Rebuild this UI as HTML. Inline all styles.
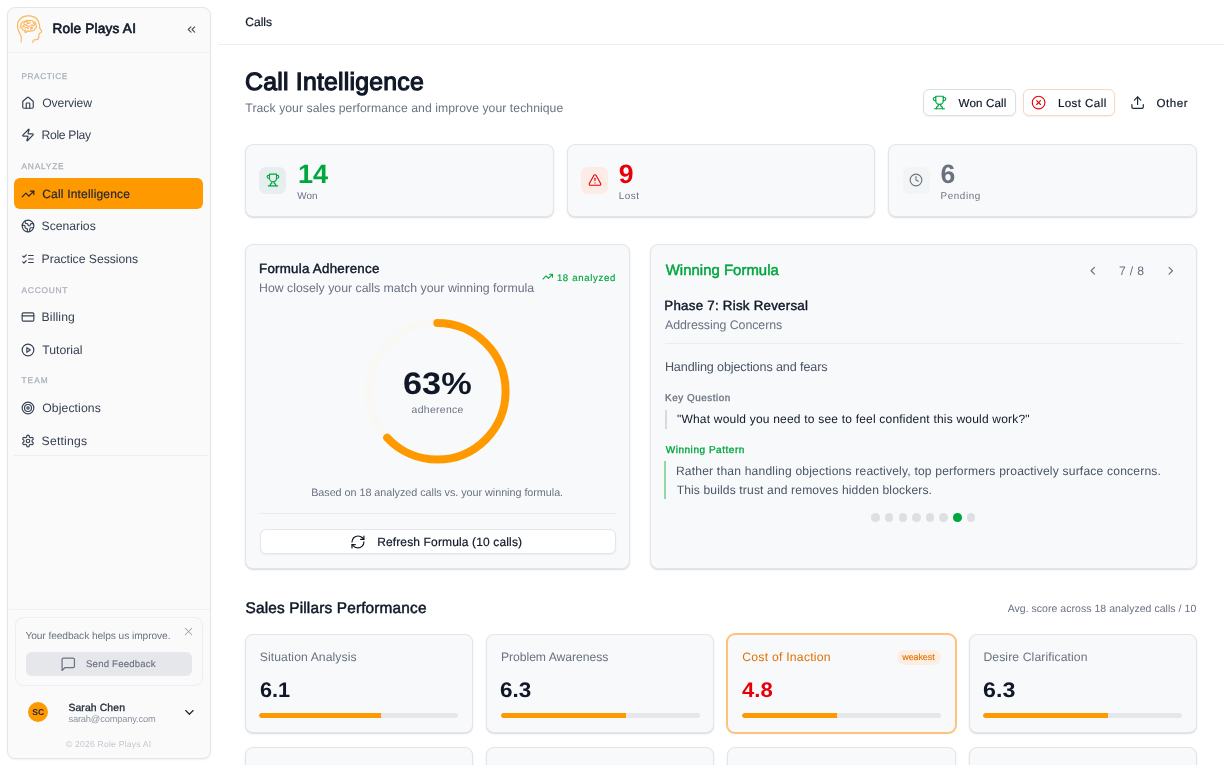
<!DOCTYPE html>
<html><head><meta charset="utf-8"><style>
*{box-sizing:border-box;margin:0;padding:0}
html,body{width:1224px;height:765px;overflow:hidden;background:#fff;font-family:"Liberation Sans",sans-serif;position:relative;text-rendering:geometricPrecision}
.t{position:absolute;white-space:nowrap;filter:opacity(1)}
.ic{position:absolute;overflow:visible}
.sb{position:absolute;left:7px;top:7px;width:204px;height:752px;background:#fafafa;border:1px solid #e3e6ea;border-radius:8px;box-shadow:0 1px 2px rgba(16,24,40,.06)}
.hl{position:absolute;height:1px;background:#eaecef}
.act{position:absolute;left:14.4px;top:178.3px;width:188.8px;height:30.5px;background:#fe9a00;border-radius:6px}
.fb{position:absolute;left:14.8px;top:617.3px;width:188px;height:69.2px;border:1px solid #eceef1;border-radius:8px;background:#fafafa}
.fbb{position:absolute;left:25.7px;top:652px;width:166.2px;height:23.6px;background:#e5e7eb;border-radius:6px}
.av{position:absolute;left:28px;top:702px;width:20.4px;height:20.4px;border-radius:50%;background:#fe9a00;color:#1f2937;font-weight:700;font-size:8.6px;line-height:20.4px;text-align:center;filter:opacity(1)}
.card{position:absolute;background:#f8f9fb;border:1px solid #e2e6ea;border-radius:8px;box-shadow:0 1px 2px rgba(16,24,40,.10),0 1px 1px rgba(16,24,40,.05)}
.btn{position:absolute;background:#fff;border:1px solid #e3e6ea;border-radius:6px;box-shadow:0 1px 2px rgba(16,24,40,.06)}
.ibox{position:absolute;width:27px;height:27px;border-radius:6.5px}
.dot{position:absolute;width:8.6px;height:8.6px;border-radius:50%}
.bar{position:absolute;height:5.1px;background:#e5e7eb;border-radius:3px;overflow:hidden}
.bar div{height:100%;background:#fe9a00;border-radius:3px 0 0 3px}
.badge{position:absolute;background:#fdeee3;border-radius:8px}
</style></head><body>
<div class="sb"></div>
<div class="hl" style="left:8.5px;top:51.8px;width:201px;background:#eef0f2"></div>
<div class="hl" style="left:14px;top:455.4px;width:195px;background:#eceef1"></div>
<div class="hl" style="left:8.5px;top:609px;width:201px;background:#eef0f2"></div>
<svg class="ic" style="left:14px;top:13px;width:32px;height:32px" viewBox="0 0 32 32" fill="none" stroke="#fdb65a" stroke-width="1.2" stroke-linecap="round" stroke-linejoin="round">
<path d="M7.1 28.9C7.6 26 7.5 24.5 7 23C6.5 21.5 5 19 4.2 16.7C3.3 14.5 3.1 10 4.6 7.9C6 5.5 9.5 3.2 13.4 2.9C15 2.8 16.3 2.8 17.6 3.1C21.5 3.8 24.5 7 25.4 11.5C25.7 13 25.6 14.2 25.7 15.1L27.6 18C27.9 18.6 27.4 19.3 26.8 19.7L25.3 20.6C24.9 21.8 24.9 23.2 24.7 24.3C24.5 25.8 23.8 26.5 22.5 26.7L20.2 26.8C19.3 27 18.9 27.8 18.8 29.3"/>
<path d="M8 15.5C6.2 15.2 5.8 12.8 7.2 11.8C6.8 9.8 8.8 8.3 10.6 8.9C11.4 7.3 13.8 7 15 8.1C16.2 7 18.6 7.3 19.3 8.9C21.2 8.8 22.6 10.6 21.9 12.3C23 13.5 22.4 15.6 20.8 15.9C20.6 17.4 18.8 18.3 17.4 17.6C16.4 18.5 14.5 18.5 13.6 17.6L12 19.5C11.3 19.8 10.8 19.2 11 18.6L11.5 17.2C10.3 17.6 8.6 16.9 8 15.5Z"/>
<path d="M9.5 12.5C10.3 11.2 12 11.3 12.5 12.5M13 10C14 10.8 15.5 10.6 16 9.5M17 12.5C18 11.5 19.5 12 19.8 13.2M11 15C12 14.2 13.8 14.4 14.3 15.5M15.5 13.5C16.3 14.5 17.8 14.8 18.5 14.2M10 10.5C9.8 9.9 10.2 9.4 10.8 9.3M19.5 10.3C20.2 10.5 20.6 11 20.5 11.6M8.3 13.4C8.9 13.9 9.7 14 10.3 13.6M12.2 8.4C12.6 9 13.2 9.2 13.8 9M16.6 16.4C16.8 15.7 17.5 15.3 18.2 15.4M13.6 12.4C14.2 12.9 14.2 13.6 13.8 14.1"/>
</svg>
<svg class="ic" style="left:184.9px;top:23.3px;width:13px;height:13px;" viewBox="0 0 24 24" fill="none" stroke="#4a5565" stroke-width="2.1" stroke-linecap="round" stroke-linejoin="round"><path d="m11 17-5-5 5-5"/><path d="m18 17-5-5 5-5"/></svg>
<div class="act"></div>
<svg class="ic" style="left:21.1px;top:96.0px;width:14px;height:14px;" viewBox="0 0 24 24" fill="none" stroke="#364153" stroke-width="2" stroke-linecap="round" stroke-linejoin="round"><path d="M15 21v-8a1 1 0 0 0-1-1h-4a1 1 0 0 0-1 1v8"/><path d="M3 10a2 2 0 0 1 .709-1.528l7-5.999a2 2 0 0 1 2.582 0l7 5.999A2 2 0 0 1 21 10v9a2 2 0 0 1-2 2H5a2 2 0 0 1-2-2z"/></svg>
<svg class="ic" style="left:21.1px;top:127.6px;width:14px;height:14px;" viewBox="0 0 24 24" fill="none" stroke="#364153" stroke-width="2" stroke-linecap="round" stroke-linejoin="round"><path d="M4 14a1 1 0 0 1-.78-1.63l9.9-10.2a.5.5 0 0 1 .86.46l-1.92 6.02A1 1 0 0 0 13 10h7a1 1 0 0 1 .78 1.63l-9.9 10.2a.5.5 0 0 1-.86-.46l1.92-6.02A1 1 0 0 0 11 14z"/></svg>
<svg class="ic" style="left:21.1px;top:186.7px;width:14px;height:14px;" viewBox="0 0 24 24" fill="none" stroke="#1f2430" stroke-width="2" stroke-linecap="round" stroke-linejoin="round"><polyline points="22 7 13.5 15.5 8.5 10.5 2 17"/><polyline points="16 7 22 7 22 13"/></svg>
<svg class="ic" style="left:21.1px;top:218.8px;width:14px;height:14px;" viewBox="0 0 24 24" fill="none" stroke="#364153" stroke-width="2" stroke-linecap="round" stroke-linejoin="round"><path d="M21.54 15H17a2 2 0 0 0-2 2v4.54"/><path d="M7 3.34V5a3 3 0 0 0 3 3a2 2 0 0 1 2 2c0 1.1.9 2 2 2a2 2 0 0 0 2-2c0-1.1.9-2 2-2h3.17"/><path d="M11 21.95V18a2 2 0 0 0-2-2a2 2 0 0 1-2-2v-1a2 2 0 0 0-2-2H2.05"/><circle cx="12" cy="12" r="10"/></svg>
<svg class="ic" style="left:21.1px;top:251.89999999999998px;width:14px;height:14px;" viewBox="0 0 24 24" fill="none" stroke="#364153" stroke-width="2" stroke-linecap="round" stroke-linejoin="round"><path d="m3 17 2 2 4-4"/><path d="m3 7 2 2 4-4"/><path d="M13 6h8"/><path d="M13 12h8"/><path d="M13 18h8"/></svg>
<svg class="ic" style="left:21.1px;top:310.1px;width:14px;height:14px;" viewBox="0 0 24 24" fill="none" stroke="#364153" stroke-width="2" stroke-linecap="round" stroke-linejoin="round"><rect width="20" height="14" x="2" y="5" rx="2"/><line x1="2" x2="22" y1="10" y2="10"/></svg>
<svg class="ic" style="left:21.1px;top:342.7px;width:14px;height:14px;" viewBox="0 0 24 24" fill="none" stroke="#364153" stroke-width="2" stroke-linecap="round" stroke-linejoin="round"><circle cx="12" cy="12" r="10"/><polygon points="10 8 16 12 10 16 10 8"/></svg>
<svg class="ic" style="left:21.1px;top:401.0px;width:14px;height:14px;" viewBox="0 0 24 24" fill="none" stroke="#364153" stroke-width="2" stroke-linecap="round" stroke-linejoin="round"><circle cx="12" cy="12" r="10"/><circle cx="12" cy="12" r="6"/><circle cx="12" cy="12" r="2"/></svg>
<svg class="ic" style="left:21.1px;top:433.9px;width:14px;height:14px;" viewBox="0 0 24 24" fill="none" stroke="#364153" stroke-width="2" stroke-linecap="round" stroke-linejoin="round"><path d="M12.22 2h-.44a2 2 0 0 0-2 2v.18a2 2 0 0 1-1 1.73l-.43.25a2 2 0 0 1-2 0l-.15-.08a2 2 0 0 0-2.73.73l-.22.38a2 2 0 0 0 .73 2.73l.15.1a2 2 0 0 1 1 1.72v.51a2 2 0 0 1-1 1.74l-.15.09a2 2 0 0 0-.73 2.73l.22.38a2 2 0 0 0 2.73.73l.15-.08a2 2 0 0 1 2 0l.43.25a2 2 0 0 1 1 1.73V20a2 2 0 0 0 2 2h.44a2 2 0 0 0 2-2v-.18a2 2 0 0 1 1-1.73l.43-.25a2 2 0 0 1 2 0l.15.08a2 2 0 0 0 2.73-.73l.22-.39a2 2 0 0 0-.73-2.73l-.15-.08a2 2 0 0 1-1-1.74v-.5a2 2 0 0 1 1-1.74l.15-.09a2 2 0 0 0 .73-2.730l-.22-.38a2 2 0 0 0-2.73-.73l-.15.08a2 2 0 0 1-2 0l-.43-.25a2 2 0 0 1-1-1.73V4a2 2 0 0 0-2-2z"/><circle cx="12" cy="12" r="3"/></svg>
<div class="fb"></div>
<svg class="ic" style="left:182.15px;top:625.25px;width:13px;height:13px;" viewBox="0 0 24 24" fill="none" stroke="#9ca3af" stroke-width="1.9" stroke-linecap="round" stroke-linejoin="round"><path d="M18 6 6 18"/><path d="m6 6 12 12"/></svg>
<div class="fbb"></div>
<svg class="ic" style="left:60.45px;top:655.6px;width:16.5px;height:16.5px;" viewBox="0 0 24 24" fill="none" stroke="#6b7280" stroke-width="1.8" stroke-linecap="round" stroke-linejoin="round"><path d="M21 15a2 2 0 0 1-2 2H7l-4 4V5a2 2 0 0 1 2-2h14a2 2 0 0 1 2 2z"/></svg>
<div class="av">SC</div>
<svg class="ic" style="left:182.2px;top:704.9px;width:14.8px;height:14.8px;" viewBox="0 0 24 24" fill="none" stroke="#1f2937" stroke-width="2" stroke-linecap="round" stroke-linejoin="round"><path d="m6 9 6 6 6-6"/></svg>
<div class="hl" style="left:218px;top:44px;width:1006px;background:#eceef1"></div>
<div class="btn" style="left:923.3px;top:89.4px;width:92.5px;height:27px;border-color:#d9e0e4"></div>
<svg class="ic" style="left:931.6px;top:94.95px;width:15px;height:15px;" viewBox="0 0 24 24" fill="none" stroke="#00a63e" stroke-width="1.9" stroke-linecap="round" stroke-linejoin="round"><path d="M6 9H4.5a2.5 2.5 0 0 1 0-5H6"/><path d="M18 9h1.5a2.5 2.5 0 0 0 0-5H18"/><path d="M4 22h16"/><path d="M10 14.66V17c0 .55-.47.98-.97 1.21C7.850 18.75 7 20.24 7 22"/><path d="M14 14.66V17c0 .55.47.98.97 1.21C16.15 18.75 17 20.24 17 22"/><path d="M18 2H6v7a6 6 0 0 0 12 0V2Z"/></svg>
<div class="btn" style="left:1022.8px;top:89.4px;width:92px;height:27px;border-color:#fbd7bd"></div>
<svg class="ic" style="left:1030.95px;top:94.85px;width:15.2px;height:15.2px;" viewBox="0 0 24 24" fill="none" stroke="#e7000b" stroke-width="1.8" stroke-linecap="round" stroke-linejoin="round"><circle cx="12" cy="12" r="10"/><path d="m15 9-6 6"/><path d="m9 9 6 6"/></svg>
<svg class="ic" style="left:1129.75px;top:95.2px;width:15.2px;height:15.2px;" viewBox="0 0 24 24" fill="none" stroke="#1f2937" stroke-width="1.9" stroke-linecap="round" stroke-linejoin="round"><path d="M21 15v4a2 2 0 0 1-2 2H5a2 2 0 0 1-2-2v-4"/><polyline points="17 8 12 3 7 8"/><line x1="12" x2="12" y1="3" y2="15"/></svg>
<div class="card" style="left:245px;top:143.6px;width:309px;height:73.6px"></div>
<div class="ibox" style="left:259.4px;top:166.8px;background:#e7eef0"></div>
<svg class="ic" style="left:265.9px;top:173.3px;width:14px;height:14px;" viewBox="0 0 24 24" fill="none" stroke="#00a63e" stroke-width="1.9" stroke-linecap="round" stroke-linejoin="round"><path d="M6 9H4.5a2.5 2.5 0 0 1 0-5H6"/><path d="M18 9h1.5a2.5 2.5 0 0 0 0-5H18"/><path d="M4 22h16"/><path d="M10 14.66V17c0 .55-.47.98-.97 1.21C7.850 18.75 7 20.24 7 22"/><path d="M14 14.66V17c0 .55.47.98.97 1.21C16.15 18.75 17 20.24 17 22"/><path d="M18 2H6v7a6 6 0 0 0 12 0V2Z"/></svg>
<div class="card" style="left:567px;top:143.6px;width:308px;height:73.6px"></div>
<div class="ibox" style="left:581.1px;top:166.8px;background:#fdece5"></div>
<svg class="ic" style="left:587.6px;top:173.3px;width:14px;height:14px;" viewBox="0 0 24 24" fill="none" stroke="#e7000b" stroke-width="1.9" stroke-linecap="round" stroke-linejoin="round"><path d="m21.73 18-8-14a2 2 0 0 0-3.48 0l-8 14A2 2 0 0 0 4 21h16a2 2 0 0 0 1.73-3"/><path d="M12 9v4"/><path d="M12 17h.01"/></svg>
<div class="card" style="left:888px;top:143.6px;width:309px;height:73.6px"></div>
<div class="ibox" style="left:902.8000000000001px;top:166.8px;background:#f2f4f6"></div>
<svg class="ic" style="left:909.3000000000001px;top:173.3px;width:14px;height:14px;" viewBox="0 0 24 24" fill="none" stroke="#6a7282" stroke-width="1.9" stroke-linecap="round" stroke-linejoin="round"><circle cx="12" cy="12" r="10"/><polyline points="12 6 12 12 16 14"/></svg>
<div class="card" style="left:245.2px;top:243.9px;width:384.8px;height:325.2px"></div>
<svg class="ic" style="left:542.35px;top:271.3px;width:11.4px;height:11.4px;" viewBox="0 0 24 24" fill="none" stroke="#00a63e" stroke-width="2.2" stroke-linecap="round" stroke-linejoin="round"><polyline points="22 7 13.5 15.5 8.5 10.5 2 17"/><polyline points="16 7 22 7 22 13"/></svg>
<svg class="ic" style="left:365px;top:318.8px;width:144.6px;height:144.6px" viewBox="0 0 144.6 144.6">
<circle cx="72.3" cy="72.3" r="68.3" fill="none" stroke="#f9f8f5" stroke-width="8"/>
<circle cx="72.3" cy="72.3" r="68.3" fill="none" stroke="#fe9a00" stroke-width="8" stroke-linecap="round"
 stroke-dasharray="270.35 1000" transform="rotate(-90 72.3 72.3)"/>
</svg>
<div class="hl" style="left:259px;top:513px;width:357px"></div>
<div class="btn" style="left:259.7px;top:528.6px;width:356px;height:25.8px;border-color:#e3e6ea"></div>
<svg class="ic" style="left:350.0px;top:533.55px;width:15.9px;height:15.9px;" viewBox="0 0 24 24" fill="none" stroke="#101828" stroke-width="1.8" stroke-linecap="round" stroke-linejoin="round"><path d="M3 12a9 9 0 0 1 9-9 9.75 9.75 0 0 1 6.74 2.74L21 8"/><path d="M21 3v5h-5"/><path d="M21 12a9 9 0 0 1-9 9 9.75 9.75 0 0 1-6.74-2.74L3 16"/><path d="M8 16H3v5"/></svg>
<div class="card" style="left:650px;top:244.2px;width:547px;height:325.2px"></div>
<svg class="ic" style="left:1085.6px;top:263.5px;width:13.5px;height:13.5px;" viewBox="0 0 24 24" fill="none" stroke="#6a7282" stroke-width="2.1" stroke-linecap="round" stroke-linejoin="round"><path d="m15 18-6-6 6-6"/></svg>
<svg class="ic" style="left:1163.9px;top:263.5px;width:13.5px;height:13.5px;" viewBox="0 0 24 24" fill="none" stroke="#6a7282" stroke-width="2.1" stroke-linecap="round" stroke-linejoin="round"><path d="m9 18 6-6-6-6"/></svg>
<div class="hl" style="left:665px;top:343.2px;width:518px"></div>
<div style="position:absolute;left:664.8px;top:409.6px;width:1.8px;height:19.6px;background:#d6d9de"></div>
<div style="position:absolute;left:664.4px;top:461.2px;width:1.9px;height:38.2px;background:#93d9a8"></div>
<div class="dot" style="left:871.20px;top:513.3px;background:#dde0e3"></div>
<div class="dot" style="left:884.85px;top:513.3px;background:#dde0e3"></div>
<div class="dot" style="left:898.50px;top:513.3px;background:#dde0e3"></div>
<div class="dot" style="left:912.15px;top:513.3px;background:#dde0e3"></div>
<div class="dot" style="left:925.80px;top:513.3px;background:#dde0e3"></div>
<div class="dot" style="left:939.45px;top:513.3px;background:#dde0e3"></div>
<div class="dot" style="left:953.10px;top:513.3px;background:#00a63e"></div>
<div class="dot" style="left:966.75px;top:513.3px;background:#dde0e3"></div>
<div class="card" style="left:245px;top:633.8px;width:228px;height:98.8px;"></div>
<div class="card" style="left:245px;top:746.5px;width:228px;height:98.8px"></div>
<div class="bar" style="left:259.4px;top:712.9px;width:199px"><div style="width:61.0%"></div></div>
<div class="card" style="left:486px;top:633.8px;width:228px;height:98.8px;"></div>
<div class="card" style="left:486px;top:746.5px;width:228px;height:98.8px"></div>
<div class="bar" style="left:500.9px;top:712.9px;width:199px"><div style="width:63.0%"></div></div>
<div class="card" style="left:727px;top:633.8px;width:229px;height:98.8px;border-color:#fdc27c;box-shadow:0 0 0 1px #fdc27c, 0 1px 2px rgba(0,0,0,.06);"></div>
<div class="card" style="left:727px;top:746.5px;width:229px;height:98.8px"></div>
<div class="bar" style="left:741.6px;top:712.9px;width:199px"><div style="width:48.0%"></div></div>
<div class="card" style="left:969px;top:633.8px;width:228px;height:98.8px;"></div>
<div class="card" style="left:969px;top:746.5px;width:228px;height:98.8px"></div>
<div class="bar" style="left:983.1px;top:712.9px;width:199px"><div style="width:63.0%"></div></div>
<div class="badge" style="left:897px;top:649.5px;width:44px;height:15.7px"></div>
<div class="t" id="brand" style="left:52.52px;top:20.27px;font-size:13.6px;line-height:17.0px;font-weight:400;color:#101828;letter-spacing:0.212px;-webkit-text-stroke:0.653px #101828;"><span>Role Plays AI</span></div>
<div class="t" id="lp" style="left:21.52px;top:71.09px;font-size:8.3px;line-height:10.38px;font-weight:400;color:#abb2bc;letter-spacing:0.531px;-webkit-text-stroke:0.266px #abb2bc;"><span>PRACTICE</span></div>
<div class="t" id="la" style="left:21.52px;top:161.43px;font-size:8.3px;line-height:10.38px;font-weight:400;color:#abb2bc;letter-spacing:0.810px;-webkit-text-stroke:0.266px #abb2bc;"><span>ANALYZE</span></div>
<div class="t" id="lac" style="left:21.52px;top:284.97px;font-size:8.3px;line-height:10.38px;font-weight:400;color:#abb2bc;letter-spacing:0.793px;-webkit-text-stroke:0.266px #abb2bc;"><span>ACCOUNT</span></div>
<div class="t" id="lt" style="left:21.52px;top:375.19px;font-size:8.3px;line-height:10.38px;font-weight:400;color:#abb2bc;letter-spacing:1.016px;-webkit-text-stroke:0.266px #abb2bc;"><span>TEAM</span></div>
<div class="t" id="n1" style="left:42.26px;top:96.24px;font-size:12.2px;line-height:15.25px;font-weight:400;color:#364153;letter-spacing:-0.143px;"><span>Overview</span></div>
<div class="t" id="n2" style="left:41.56px;top:127.51px;font-size:12.2px;line-height:15.25px;font-weight:400;color:#364153;letter-spacing:-0.333px;"><span>Role Play</span></div>
<div class="t" id="n3" style="left:42.26px;top:186.57px;font-size:12.0px;line-height:15.0px;font-weight:400;color:#1f2430;letter-spacing:0.184px;-webkit-text-stroke:0.192px #1f2430;"><span>Call Intelligence</span></div>
<div class="t" id="n4" style="left:41.56px;top:219.04px;font-size:12.2px;line-height:15.25px;font-weight:400;color:#364153;letter-spacing:0.000px;"><span>Scenarios</span></div>
<div class="t" id="n5" style="left:41.56px;top:252.14px;font-size:12.2px;line-height:15.25px;font-weight:400;color:#364153;letter-spacing:-0.021px;"><span>Practice Sessions</span></div>
<div class="t" id="n6" style="left:41.56px;top:310.34px;font-size:12.2px;line-height:15.25px;font-weight:400;color:#364153;letter-spacing:0.133px;"><span>Billing</span></div>
<div class="t" id="n7" style="left:42.26px;top:342.94px;font-size:12.2px;line-height:15.25px;font-weight:400;color:#364153;letter-spacing:0.013px;"><span>Tutorial</span></div>
<div class="t" id="n8" style="left:42.26px;top:401.24px;font-size:12.2px;line-height:15.25px;font-weight:400;color:#364153;letter-spacing:0.107px;"><span>Objections</span></div>
<div class="t" id="n9" style="left:41.56px;top:434.14px;font-size:12.2px;line-height:15.25px;font-weight:400;color:#364153;letter-spacing:0.219px;"><span>Settings</span></div>
<div class="t" id="fbt" style="left:25.41px;top:630.81px;font-size:10.2px;line-height:12.75px;font-weight:400;color:#6b7280;letter-spacing:-0.078px;"><span>Your feedback helps us improve.</span></div>
<div class="t" id="fbs" style="left:86.00px;top:658.77px;font-size:9.6px;line-height:12.0px;font-weight:400;color:#6b7280;letter-spacing:0.201px;-webkit-text-stroke:0.154px #6b7280;"><span>Send Feedback</span></div>
<div class="t" id="un" style="left:68.41px;top:701.89px;font-size:10.4px;line-height:13.0px;font-weight:400;color:#1f2937;letter-spacing:0.118px;-webkit-text-stroke:0.333px #1f2937;"><span>Sarah Chen</span></div>
<div class="t" id="ue" style="left:68.41px;top:714.34px;font-size:9.3px;line-height:11.62px;font-weight:400;color:#8b93a0;letter-spacing:-0.159px;"><span>sarah@company.com</span></div>
<div class="t" id="cp" style="left:66.00px;top:738.94px;font-size:8.6px;line-height:10.75px;font-weight:400;color:#c3c8cf;letter-spacing:0.200px;"><span>© 2026 Role Plays AI</span></div>
<div class="t" id="calls" style="left:245.37px;top:15.24px;font-size:12.1px;line-height:15.12px;font-weight:400;color:#101828;letter-spacing:-0.050px;-webkit-text-stroke:0.194px #101828;"><span>Calls</span></div>
<div class="t" id="title" style="left:245.04px;top:67.19px;font-size:24.8px;line-height:31.0px;font-weight:400;color:#101828;letter-spacing:0.228px;-webkit-text-stroke:1.190px #101828;"><span>Call Intelligence</span></div>
<div class="t" id="sub" style="left:245.37px;top:101.14px;font-size:12.2px;line-height:15.25px;font-weight:400;color:#6a7282;letter-spacing:0.061px;"><span>Track your sales performance and improve your technique</span></div>
<div class="t" id="won" style="left:958.59px;top:96.75px;font-size:11.6px;line-height:14.5px;font-weight:400;color:#101828;letter-spacing:0.130px;-webkit-text-stroke:0.186px #101828;"><span>Won Call</span></div>
<div class="t" id="lost" style="left:1057.89px;top:96.77px;font-size:11.6px;line-height:14.5px;font-weight:400;color:#101828;letter-spacing:0.408px;-webkit-text-stroke:0.186px #101828;"><span>Lost Call</span></div>
<div class="t" id="other" style="left:1156.41px;top:96.62px;font-size:11.6px;line-height:14.5px;font-weight:400;color:#101828;letter-spacing:0.525px;-webkit-text-stroke:0.186px #101828;"><span>Other</span></div>
<div class="t" id="s1n" style="left:298.45px;top:158.24px;font-size:26.6px;line-height:33.25px;font-weight:700;color:#00a63e;letter-spacing:0.000px;transform:scaleX(1.0200);transform-origin:0 0;"><span>14</span></div>
<div class="t" id="s1l" style="left:297.37px;top:190.95px;font-size:9.9px;line-height:12.38px;font-weight:400;color:#6a7282;letter-spacing:0.000px;"><span>Won</span></div>
<div class="t" id="s2n" style="left:618.82px;top:158.24px;font-size:26.6px;line-height:33.25px;font-weight:700;color:#e7000b;letter-spacing:0.000px;transform:scaleX(1.0000);transform-origin:0 0;"><span>9</span></div>
<div class="t" id="s2l" style="left:618.82px;top:190.95px;font-size:9.9px;line-height:12.38px;font-weight:400;color:#6a7282;letter-spacing:0.525px;"><span>Lost</span></div>
<div class="t" id="s3n" style="left:940.56px;top:158.24px;font-size:26.6px;line-height:33.25px;font-weight:700;color:#6a7282;letter-spacing:0.000px;transform:scaleX(1.0000);transform-origin:0 0;"><span>6</span></div>
<div class="t" id="s3l" style="left:940.56px;top:190.95px;font-size:9.9px;line-height:12.38px;font-weight:400;color:#6a7282;letter-spacing:0.573px;"><span>Pending</span></div>
<div class="t" id="fa" style="left:259.04px;top:261.40px;font-size:13.3px;line-height:16.62px;font-weight:400;color:#101828;letter-spacing:0.264px;-webkit-text-stroke:0.426px #101828;"><span>Formula Adherence</span></div>
<div class="t" id="fas" style="left:259.04px;top:281.04px;font-size:12.3px;line-height:15.38px;font-weight:400;color:#6a7282;letter-spacing:0.007px;"><span>How closely your calls match your winning formula</span></div>
<div class="t" id="fan" style="left:556.89px;top:272.57px;font-size:9.6px;line-height:12.0px;font-weight:400;color:#00a63e;letter-spacing:0.660px;-webkit-text-stroke:0.154px #00a63e;"><span>18 analyzed</span></div>
<div class="t" id="pct" style="left:402.67px;top:364.67px;font-size:31.0px;line-height:38.75px;font-weight:700;color:#101828;letter-spacing:0.000px;transform:scaleX(1.1068);transform-origin:0 0;"><span>63%</span></div>
<div class="t" id="adh" style="left:411.52px;top:403.79px;font-size:10.4px;line-height:13.0px;font-weight:400;color:#6a7282;letter-spacing:0.345px;"><span>adherence</span></div>
<div class="t" id="based" style="left:311.15px;top:486.80px;font-size:10.8px;line-height:13.5px;font-weight:400;color:#6a7282;letter-spacing:-0.037px;"><span>Based on 18 analyzed calls vs. your winning formula.</span></div>
<div class="t" id="refresh" style="left:377.15px;top:535.44px;font-size:12.0px;line-height:15.0px;font-weight:400;color:#101828;letter-spacing:0.140px;-webkit-text-stroke:0.192px #101828;"><span>Refresh Formula (10 calls)</span></div>
<div class="t" id="wf" style="left:665.74px;top:261.62px;font-size:14.9px;line-height:18.62px;font-weight:400;color:#00a63e;letter-spacing:0.037px;-webkit-text-stroke:0.477px #00a63e;"><span>Winning Formula</span></div>
<div class="t" id="pg" style="left:1118.93px;top:264.04px;font-size:12.2px;line-height:15.25px;font-weight:400;color:#6a7282;letter-spacing:0.375px;"><span>7 / 8</span></div>
<div class="t" id="ph" style="left:664.30px;top:298.17px;font-size:13.3px;line-height:16.62px;font-weight:400;color:#101828;letter-spacing:0.261px;-webkit-text-stroke:0.426px #101828;"><span>Phase 7: Risk Reversal</span></div>
<div class="t" id="ac" style="left:665.00px;top:318.05px;font-size:12.4px;line-height:15.5px;font-weight:400;color:#6a7282;letter-spacing:-0.068px;"><span>Addressing Concerns</span></div>
<div class="t" id="hand" style="left:664.89px;top:359.75px;font-size:12.6px;line-height:15.75px;font-weight:400;color:#4a5565;letter-spacing:-0.117px;"><span>Handling objections and fears</span></div>
<div class="t" id="kq" style="left:665.00px;top:392.57px;font-size:9.9px;line-height:12.38px;font-weight:400;color:#6a7282;letter-spacing:0.546px;-webkit-text-stroke:0.317px #6a7282;"><span>Key Question</span></div>
<div class="t" id="quote" style="left:677.00px;top:412.14px;font-size:12.0px;line-height:15.0px;font-weight:400;color:#101828;letter-spacing:0.202px;"><span>"What would you need to see to feel confident this would work?"</span></div>
<div class="t" id="wp" style="left:665.70px;top:444.86px;font-size:10.0px;line-height:12.5px;font-weight:400;color:#00a63e;letter-spacing:0.537px;-webkit-text-stroke:0.320px #00a63e;"><span>Winning Pattern</span></div>
<div class="t" id="p1" style="left:675.93px;top:464.34px;font-size:12.1px;line-height:15.12px;font-weight:400;color:#4a5565;letter-spacing:0.184px;"><span>Rather than handling objections reactively, top performers proactively surface concerns.</span></div>
<div class="t" id="p2" style="left:676.63px;top:483.14px;font-size:12.1px;line-height:15.12px;font-weight:400;color:#4a5565;letter-spacing:0.132px;"><span>This builds trust and removes hidden blockers.</span></div>
<div class="t" id="sp" style="left:245.53px;top:599.03px;font-size:15.4px;line-height:19.25px;font-weight:400;color:#101828;letter-spacing:0.162px;-webkit-text-stroke:0.493px #101828;"><span>Sales Pillars Performance</span></div>
<div class="t" id="avg" style="left:1007.63px;top:603.10px;font-size:10.5px;line-height:13.12px;font-weight:400;color:#6a7282;letter-spacing:0.037px;"><span>Avg. score across 18 analyzed calls / 10</span></div>
<div class="t" id="c1t" style="left:259.78px;top:650.34px;font-size:12.2px;line-height:15.25px;font-weight:400;color:#6a7282;letter-spacing:0.074px;"><span>Situation Analysis</span></div>
<div class="t" id="c1v" style="left:260.00px;top:678.13px;font-size:21.0px;line-height:26.25px;font-weight:700;color:#101828;letter-spacing:0.000px;transform:scaleX(1.0345);transform-origin:0 0;"><span>6.1</span></div>
<div class="t" id="c2t" style="left:500.93px;top:650.34px;font-size:12.2px;line-height:15.25px;font-weight:400;color:#6a7282;letter-spacing:-0.047px;"><span>Problem Awareness</span></div>
<div class="t" id="c2v" style="left:500.45px;top:678.12px;font-size:21.0px;line-height:26.25px;font-weight:700;color:#101828;letter-spacing:0.000px;transform:scaleX(1.0714);transform-origin:0 0;"><span>6.3</span></div>
<div class="t" id="c3t" style="left:742.26px;top:650.34px;font-size:12.2px;line-height:15.25px;font-weight:400;color:#e17100;letter-spacing:0.246px;"><span>Cost of Inaction</span></div>
<div class="t" id="c3v" style="left:742.48px;top:678.12px;font-size:21.0px;line-height:26.25px;font-weight:700;color:#e7000b;letter-spacing:0.000px;transform:scaleX(1.0522);transform-origin:0 0;"><span>4.8</span></div>
<div class="t" id="c4t" style="left:983.41px;top:650.34px;font-size:12.2px;line-height:15.25px;font-weight:400;color:#6a7282;letter-spacing:0.097px;"><span>Desire Clarification</span></div>
<div class="t" id="c4v" style="left:982.93px;top:678.12px;font-size:21.0px;line-height:26.25px;font-weight:700;color:#101828;letter-spacing:0.000px;transform:scaleX(1.1063);transform-origin:0 0;"><span>6.3</span></div>
<div class="t" id="weak" style="left:902.22px;top:652.08px;font-size:9.0px;line-height:11.25px;font-weight:400;color:#e17100;letter-spacing:-0.089px;-webkit-text-stroke:0.144px #e17100;"><span>weakest</span></div>
</body></html>
